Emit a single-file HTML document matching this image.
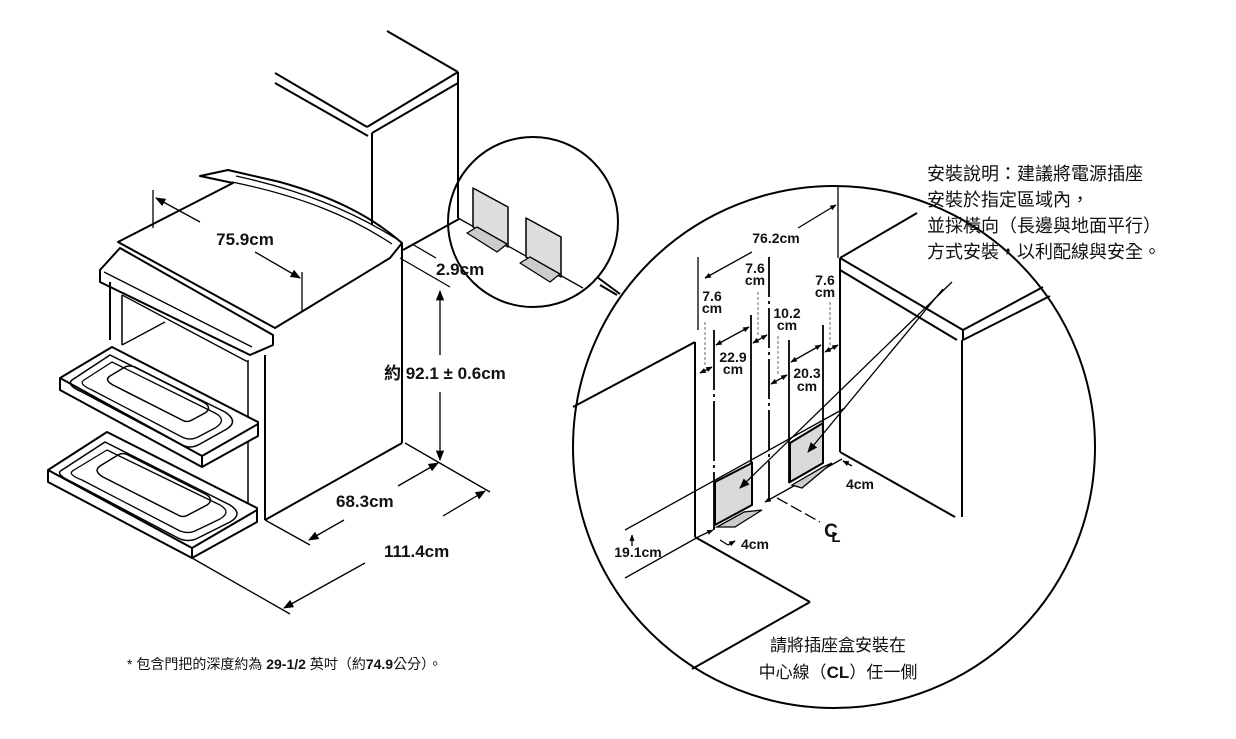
<!DOCTYPE html>
<html><head><meta charset="utf-8"><style>
html,body{margin:0;padding:0;background:#fff}
svg{display:block}
text{font-family:"Liberation Sans","Noto Sans CJK TC",sans-serif;fill:#111}
.b{font-weight:bold}
</style></head><body>
<svg width="1236" height="739" viewBox="0 0 1236 739" xmlns="http://www.w3.org/2000/svg">
<defs>
<marker id="a" viewBox="0 0 10 10" refX="9" refY="5" markerWidth="8" markerHeight="8" orient="auto-start-reverse"><path d="M0,1 L10,5 L0,9 z" fill="#000"/></marker>
<marker id="s" viewBox="0 0 10 10" refX="9" refY="5" markerWidth="5" markerHeight="5" orient="auto-start-reverse"><path d="M0,1 L10,5 L0,9 z" fill="#000"/></marker>
</defs>
<g fill="none" stroke="#000" stroke-width="2" stroke-linejoin="round">
<line x1="387" y1="31" x2="458" y2="72"/>
<line x1="275" y1="73" x2="367" y2="127"/>
<line x1="275" y1="83" x2="368" y2="136"/>
<line x1="367" y1="127" x2="458" y2="72"/>
<line x1="372" y1="133" x2="458" y2="83"/>
<line x1="372" y1="133" x2="372" y2="225"/>
<line x1="458" y1="72" x2="458" y2="218"/>
<line x1="403" y1="250" x2="459" y2="219"/>
<line x1="458" y1="218" x2="583" y2="288" stroke-width="1.3"/>
<circle cx="533" cy="222" r="85"/>
<line x1="597" y1="277" x2="620" y2="294"/>
<path d="M118,242 L233,183 L200,176 L228,170 L280,182 C330,196 370,215 402,243 L390,258 L275,328 Z"/>
<path d="M236,176 C300,190 350,210 395,238" stroke-width="1.3"/>
<path d="M232,182 C300,196 350,216 392,244" stroke-width="1.3"/>
<path d="M100,270 L120,248 L273,335 L273,345 L250,355 L100,282 Z"/>
<line x1="104" y1="272" x2="252" y2="347" stroke-width="1.3"/>
<line x1="110" y1="282" x2="110" y2="340"/>
<line x1="122" y1="295" x2="122" y2="345" stroke-width="1.5"/>
<line x1="122" y1="295" x2="248" y2="362" stroke-width="1.3"/>
<line x1="122" y1="345" x2="165" y2="322" stroke-width="1.3"/>
<line x1="248" y1="360" x2="248" y2="520" stroke-width="1.5"/>
<line x1="265" y1="355" x2="265" y2="520"/>
<line x1="402" y1="243" x2="402" y2="443"/>
<line x1="265" y1="520" x2="402" y2="443"/>
<path d="M60,378 L112,347 L258,422 L258,436 L202,467 L60,390 Z" fill="#fff"/>
<line x1="60" y1="378" x2="202" y2="456"/><line x1="202" y1="456" x2="258" y2="424"/><line x1="202" y1="456" x2="202" y2="467"/>
<path d="M72,380 L110,355 L225,412 Q240,422 225,430 L200,444 Q190,450 180,444 L82,392 Q66,385 72,380Z" stroke-width="1.5"/>
<path d="M84,380 L112,362 L215,413 Q228,420 215,428 L198,437 Q190,441 182,437 L92,390 Q78,384 84,380Z" stroke-width="1.3"/>
<path d="M110,376 L125,367 Q130,365 135,367 L205,403 Q212,408 205,413 L192,420 Q187,423 182,420 L113,385 Q104,380 110,376Z" stroke-width="1.5"/>
<path d="M48,470 L107,432 L257,508 L257,522 L192,558 L48,482 Z" fill="#fff"/>
<line x1="48" y1="470" x2="192" y2="548"/><line x1="192" y1="548" x2="257" y2="510"/><line x1="192" y1="548" x2="192" y2="558"/>
<path d="M62,470 L105,442 L230,505 Q244,514 230,522 L198,538 Q188,543 178,538 L72,482 Q54,474 62,470Z" stroke-width="1.5"/>
<path d="M74,470 L107,450 L220,505 Q232,512 220,519 L195,531 Q188,534 180,531 L82,480 Q66,474 74,470Z" stroke-width="1.3"/>
<path d="M100,466 L118,455 Q123,452 128,455 L207,495 Q214,500 207,505 L188,515 Q183,518 178,515 L103,477 Q93,471 100,466Z" stroke-width="1.5"/>
<path d="M473,188 L508,207 L508,247 L473,227 Z" fill="#ddd" stroke-width="1.5"/>
<path d="M467,233 L477,227 L507,244 L497,252 Z" fill="#ccc" stroke-width="1.3"/>
<path d="M526,218 L561,237 L561,277 L526,257 Z" fill="#ddd" stroke-width="1.5"/>
<path d="M520,263 L530,257 L560,274 L550,282 Z" fill="#ccc" stroke-width="1.3"/>
</g>
<g stroke="#000" stroke-width="1.3" fill="none">
<line x1="153" y1="190" x2="153" y2="228"/>
<line x1="302" y1="272" x2="302" y2="312"/>
<line x1="156" y1="198" x2="200" y2="222" marker-start="url(#a)"/>
<line x1="255" y1="252" x2="300" y2="278" marker-end="url(#a)"/>
<line x1="400" y1="258" x2="450" y2="287"/>
<line x1="412" y1="244" x2="436" y2="258"/>
<line x1="440" y1="291" x2="440" y2="355" marker-start="url(#a)"/>
<line x1="440" y1="392" x2="440" y2="460" marker-end="url(#a)"/>
<line x1="405" y1="443" x2="490" y2="492"/>
<line x1="265" y1="520" x2="310" y2="545"/>
<line x1="438" y1="463" x2="398" y2="486" marker-start="url(#a)"/>
<line x1="344" y1="520" x2="309" y2="540" marker-end="url(#a)"/>
<line x1="485" y1="491" x2="443" y2="516" marker-start="url(#a)"/>
<line x1="365" y1="563" x2="284" y2="608" marker-end="url(#a)"/>
<line x1="192" y1="558" x2="290" y2="614"/>
</g>
<g fill="none" stroke="#000" stroke-width="2">
<circle cx="834" cy="447" r="261"/>
<line x1="573" y1="407" x2="695" y2="342"/>
<line x1="695" y1="342" x2="695" y2="537"/>
<line x1="695" y1="537" x2="810" y2="602"/>
<line x1="810" y1="602" x2="692" y2="669"/>
<line x1="840" y1="258" x2="840" y2="452"/>
<line x1="840" y1="452" x2="955" y2="517"/>
<line x1="962" y1="340" x2="962" y2="517"/>
<line x1="840" y1="258" x2="963" y2="330"/>
<line x1="840" y1="270" x2="957" y2="340"/>
<line x1="963" y1="330" x2="963" y2="340"/>
<line x1="963" y1="330" x2="1043" y2="287"/>
<line x1="963" y1="340" x2="1050" y2="296"/>
<line x1="840" y1="258" x2="917" y2="213"/>
<line x1="600" y1="285" x2="617" y2="295"/>
</g>
<g stroke="#000" stroke-width="1.3" fill="none">
<line x1="838" y1="185" x2="838" y2="258"/>
<line x1="698" y1="257" x2="698" y2="330"/>
<line x1="714" y1="330" x2="714" y2="530" stroke-width="1.8" stroke-dasharray="60,4,3,4"/>
<line x1="751" y1="315" x2="751" y2="470" stroke-width="1.8"/>
<line x1="769" y1="257" x2="769" y2="500" stroke-width="1.8" stroke-dasharray="40,4,3,4"/>
<line x1="789" y1="340" x2="789" y2="483" stroke-width="1.8"/>
<line x1="823" y1="325" x2="823" y2="424" stroke-width="1.8"/>
<line x1="705" y1="278" x2="752" y2="252" marker-start="url(#s)"/>
<line x1="798" y1="228" x2="836" y2="205" marker-end="url(#s)"/>
<g stroke-dasharray="3,2" stroke="#888"><line x1="705" y1="322" x2="705" y2="366"/><line x1="758" y1="292" x2="758" y2="335"/><line x1="778" y1="336" x2="778" y2="375"/><line x1="830" y1="302" x2="830" y2="345"/></g>
<line x1="700" y1="373" x2="712" y2="367" marker-start="url(#s)" marker-end="url(#s)"/>
<line x1="716" y1="345" x2="749" y2="327" marker-start="url(#s)" marker-end="url(#s)"/>
<line x1="753" y1="343" x2="767" y2="335" marker-start="url(#s)" marker-end="url(#s)"/>
<line x1="771" y1="384" x2="787" y2="375" marker-start="url(#s)" marker-end="url(#s)"/>
<line x1="791" y1="362" x2="821" y2="345" marker-start="url(#s)" marker-end="url(#s)"/>
<line x1="825" y1="352" x2="838" y2="345" marker-start="url(#s)" marker-end="url(#s)"/>
<line x1="625" y1="530" x2="845" y2="408"/>
<line x1="625" y1="578" x2="700" y2="536"/>
<line x1="632" y1="546" x2="632" y2="535" marker-end="url(#s)"/>
<line x1="700" y1="536" x2="713" y2="530" marker-end="url(#s)"/>
<line x1="765" y1="502" x2="842" y2="459" marker-start="url(#s)"/>
<line x1="720" y1="540" x2="728" y2="545"/>
<line x1="728" y1="545" x2="735" y2="541" marker-end="url(#s)"/>
<line x1="845" y1="462" x2="852" y2="466"/>
<line x1="845" y1="462" x2="843" y2="461" marker-end="url(#s)"/>
<line x1="777" y1="498" x2="820" y2="522" stroke-dasharray="12,4"/>
</g>
<g stroke="#000" stroke-width="2">
<path d="M715,482 L752,463 L752,505 L715,525 Z" fill="#d9d9d9"/>
<path d="M717,527 L744,512 L762,510 L735,527 Z" fill="#ccc" stroke-width="1.3"/>
<path d="M790,443 L823,423 L823,463 L790,482 Z" fill="#d9d9d9"/>
<path d="M792,485 L823,467 L832,463 L802,488 Z" fill="#ccc" stroke-width="1.3"/>
</g>
<g stroke="#000" stroke-width="1.3">
<line x1="952" y1="282" x2="740" y2="488" marker-end="url(#a)"/>
<line x1="943" y1="289" x2="808" y2="452" marker-end="url(#a)"/>
</g>
<g font-weight="bold" font-size="17">
<text x="245" y="245" text-anchor="middle">75.9cm</text>
<text x="436" y="275">2.9cm</text>
<text x="384" y="379">約 92.1 ± 0.6cm</text>
<text x="336" y="507">68.3cm</text>
<text x="384" y="557">111.4cm</text>
</g>
<text x="127" y="669" font-size="14">* 包含門把的深度約為 <tspan font-weight="bold">29-1/2</tspan> 英吋（約<tspan font-weight="bold">74.9</tspan>公分）。</text>
<g font-size="14" font-weight="bold" text-anchor="middle">
<text x="776" y="243">76.2cm</text>
<text x="712" y="301">7.6</text><text x="712" y="313">cm</text>
<text x="755" y="273">7.6</text><text x="755" y="285">cm</text>
<text x="825" y="285">7.6</text><text x="825" y="297">cm</text>
<text x="787" y="318">10.2</text><text x="787" y="330">cm</text>
<text x="733" y="362">22.9</text><text x="733" y="374">cm</text>
<text x="807" y="378">20.3</text><text x="807" y="391">cm</text>
<text x="860" y="489">4cm</text>
<text x="755" y="549">4cm</text>
<text x="638" y="557">19.1cm</text>
<text x="831" y="537" font-size="19">C</text><text x="836" y="542" font-size="15">L</text>
</g>
<g font-size="18">
<text x="927" y="180">安裝說明：建議將電源插座</text>
<text x="927" y="206">安裝於指定區域內，</text>
<text x="927" y="232">並採橫向（長邊與地面平行）</text>
<text x="927" y="258">方式安裝，以利配線與安全。</text>
<text x="838" y="651" text-anchor="middle" font-size="17">請將插座盒安裝在</text>
<text x="838" y="678" text-anchor="middle" font-size="17">中心線（<tspan font-weight="bold">CL</tspan>）任一側</text>
</g>
</svg>
</body></html>
